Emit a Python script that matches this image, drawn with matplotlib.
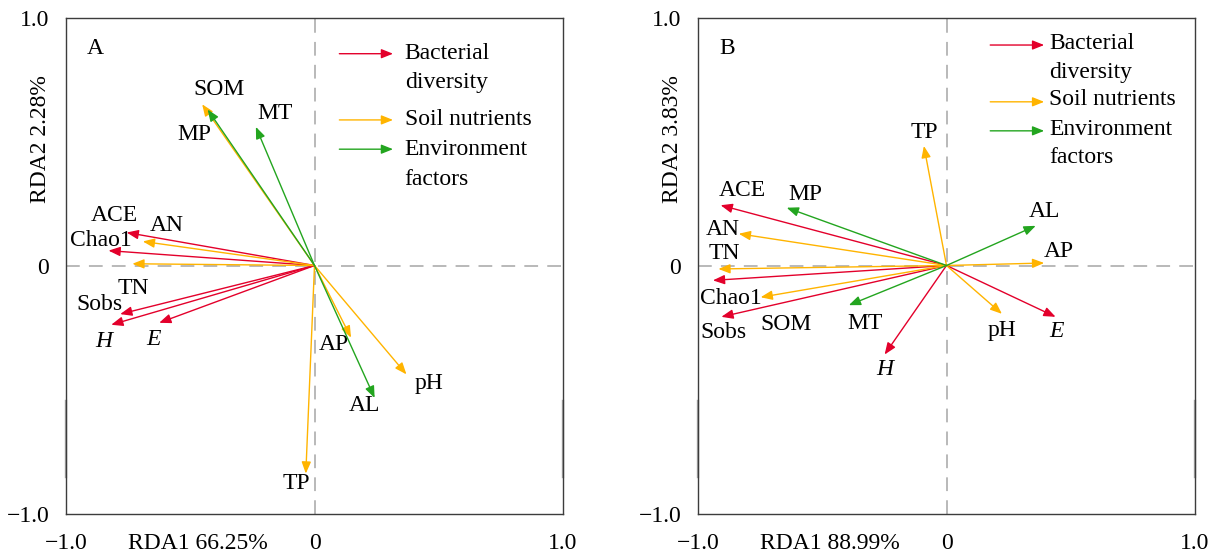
import matplotlib.pyplot as plt
import matplotlib.transforms as mtransforms

plt.rcParams['font.family'] = ['Liberation Serif', 'DejaVu Serif']
plt.rcParams['font.size'] = 17

colors = {"bac": "#E3002B", "soil": "#FFB400", "env": "#23A51F"}
legend_names = ["Bacterial\ndiversity", "Soil nutrients", "Environment\nfactors"]
groups = ["bac", "soil", "env"]

# panel A
namesA = ["ACE", "Chao1", "Sobs", "H", "E", "AN", "TN", "SOM", "AP", "pH", "TP", "MP", "MT", "AL"]
groupA = ["bac"] * 5 + ["soil"] * 6 + ["env"] * 3
xA = [-0.756, -0.829, -0.782, -0.818, -0.625, -0.691, -0.733, -0.452, 0.147, 0.370, -0.035, -0.430, -0.236, 0.242]
yA = [0.133, 0.060, -0.196, -0.239, -0.231, 0.097, 0.007, 0.650, -0.291, -0.439, -0.839, 0.629, 0.559, -0.534]

# panel B
namesB = ["ACE", "Chao1", "Sobs", "H", "E", "AN", "TN", "SOM", "TP", "AP", "pH", "MP", "AL", "MT"]
groupB = ["bac"] * 5 + ["soil"] * 6 + ["env"] * 3
xB = [-0.909, -0.940, -0.906, -0.249, 0.439, -0.836, -0.918, -0.748, -0.091, 0.393, 0.223, -0.643, 0.359, -0.393]
yB = [0.243, -0.060, -0.207, -0.359, -0.207, 0.128, -0.014, -0.128, 0.482, 0.010, -0.195, 0.233, 0.160, -0.160]

# label placement (layout only)
labA_pos = [(-0.807, 0.203), (-0.861, 0.100), (-0.867, -0.157), (-0.849, -0.306), (-0.648, -0.300),
            (-0.594, 0.161), (-0.728, -0.091), (-0.383, 0.711), (0.077, -0.317), (0.460, -0.474),
            (-0.074, -0.881), (-0.483, 0.529), (-0.159, 0.611), (0.200, -0.563)]
labB_pos = [(-0.821, 0.304), (-0.867, -0.134), (-0.898, -0.271), (-0.249, -0.419), (0.442, -0.267),
            (-0.901, 0.147), (-0.895, 0.050), (-0.646, -0.238), (-0.091, 0.536), (0.454, 0.057),
            (0.223, -0.262), (-0.569, 0.285), (0.393, 0.218), (-0.326, -0.234)]

panels = [
    ("A", namesA, groupA, xA, yA, labA_pos, "RDA1 66.25%", "RDA2 2.28%",
     (0.100, 0.316), [0.854, 0.587, 0.469], 0.363, [(0.854, 0.737), (0.587,), (0.469, 0.347)]),
    ("B", namesB, groupB, xB, yB, labB_pos, "RDA1 88.99%", "RDA2 3.83%",
     (0.176, 0.393), [0.889, 0.660, 0.543], 0.413, [(0.896, 0.779), (0.668,), (0.549, 0.435)]),
]

fig = plt.figure(figsize=(12.13, 5.56), dpi=100)
lefts = [66 / 1213, 698 / 1213]


def arrow(ax, x0, y0, x1, y1, c):
    ax.annotate("", xy=(x1, y1), xytext=(x0, y0),
                arrowprops=dict(arrowstyle="-|>,head_length=0.7,head_width=0.28",
                                mutation_scale=10, color=c, lw=1.0,
                                shrinkA=0, shrinkB=0))


for (tag, names, grp, xs, ys, lpos, xl, yl, lx, ly, tx, tys), left in zip(panels, lefts):
    ax = fig.add_axes([left, 42.5 / 556, 497 / 1213, 496 / 556])
    ax.set_xlim(-1, 1)
    ax.set_ylim(-1, 1)
    ax.axhline(0, color="#A5A5A5", lw=1.1, dashes=(9, 6), zorder=1)
    ax.axvline(0, color="#A5A5A5", lw=1.1, dashes=(9, 6), zorder=1)
    for s in ax.spines.values():
        s.set_color("#3C3C3C")
        s.set_linewidth(1.0)
    # slight gray thickening on frame sides as in the original
    for ex in (-1, 1):
        ax.plot([ex, ex], [-0.546, -0.853], color="#A8A8A8", lw=1.7, zorder=2, clip_on=False)

    ax.set_xticks([-1, 0, 1])
    ax.set_xticklabels(["\u22121.0", "0", "1.0"])
    ax.set_yticks([-1, 0, 1])
    ax.set_yticklabels(["\u22121.0", "0", "1.0"])
    ax.tick_params(length=0, labelsize=17)
    ax.tick_params(axis="x", pad=14)
    ax.tick_params(axis="y", pad=12)

    trans = mtransforms.blended_transform_factory(ax.transData, ax.transAxes)
    ax.text(-0.47, -0.061, xl, transform=trans,
            ha="center", va="center", fontsize=17)
    trans_y = mtransforms.blended_transform_factory(ax.transAxes, ax.transData)
    ax.text(-0.052, 0.51, yl, transform=trans_y, rotation=90,
            ha="center", va="center", fontsize=17)

    ax.text(-0.883, 0.877, tag, ha="center", va="center", fontsize=17)

    for n, g, x, y, (px, py) in zip(names, grp, xs, ys, lpos):
        arrow(ax, 0, 0, x, y, colors[g])
        style = "italic" if n in ("H", "E") else "normal"
        ax.text(px, py, n, ha="center", va="center", fontsize=17, style=style)

    # legend drawn inside the axes
    for g, lab, yy, tyy in zip(groups, legend_names, ly, tys):
        arrow(ax, lx[0], yy, lx[1], yy, colors[g])
        for line, t in zip(lab.split("\n"), tyy):
            ax.text(tx, t, line, ha="left", va="center", fontsize=17)

fig.savefig("out.png", dpi=100)
